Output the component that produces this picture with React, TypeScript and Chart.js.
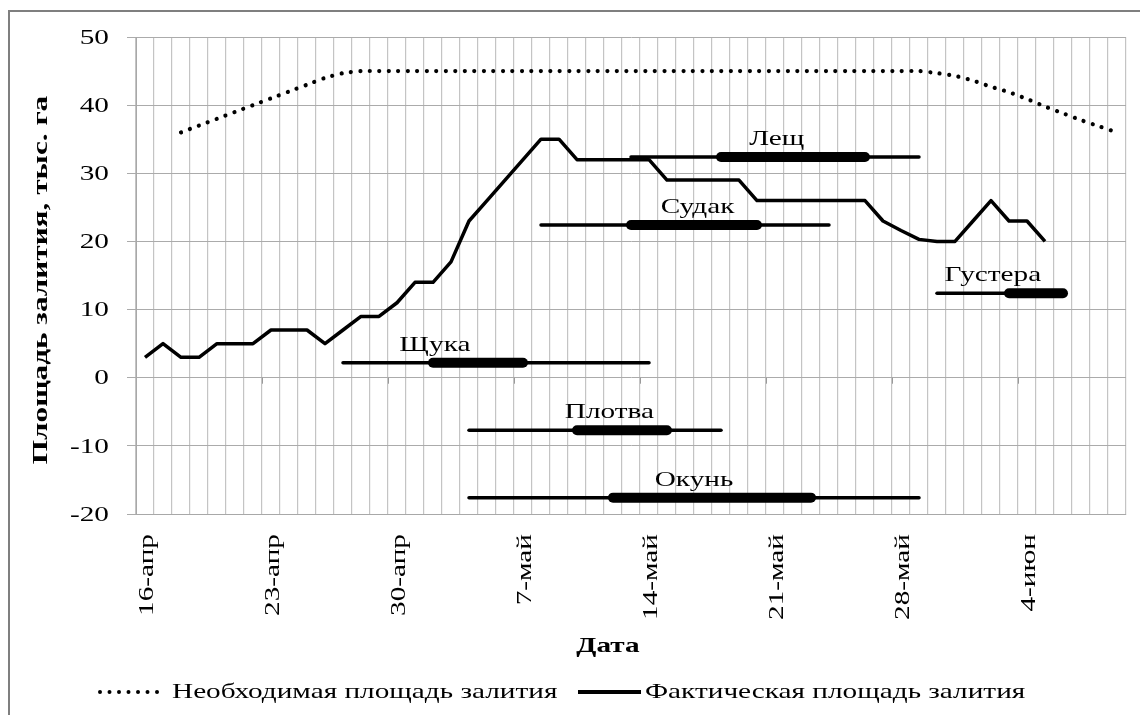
import React, { useEffect, useRef } from 'react';
import { Chart, registerables } from 'chart.js';

Chart.register(...registerables);

// ---------- data ----------
const categories = [
  '16-апр', '17-апр', '18-апр', '19-апр', '20-апр', '21-апр', '22-апр', '23-апр', '24-апр', '25-апр',
  '26-апр', '27-апр', '28-апр', '29-апр', '30-апр',
  '1-май', '2-май', '3-май', '4-май', '5-май', '6-май', '7-май', '8-май', '9-май', '10-май',
  '11-май', '12-май', '13-май', '14-май', '15-май', '16-май', '17-май', '18-май', '19-май', '20-май',
  '21-май', '22-май', '23-май', '24-май', '25-май', '26-май', '27-май', '28-май', '29-май', '30-май', '31-май',
  '1-июн', '2-июн', '3-июн', '4-июн', '5-июн', '6-июн', '7-июн', '8-июн', '9-июн',
];

// Фактическая площадь залития (16-апр .. 5-июн)
const actualArea = [
  3, 5, 3, 3, 5, 5, 5, 7, 7, 7,
  5, 7, 9, 9, 11, 14, 14, 17, 23, 26,
  29, 32, 35, 35, 32, 32, 32, 32, 32, 29,
  29, 29, 29, 29, 26, 26, 26, 26, 26, 26,
  26, 23, 21.6, 20.3, 20, 20, 23, 26, 23, 23, 20,
  null, null, null, null,
];

// Необходимая площадь залития (18-апр .. 9-июн)
const requiredArea = [
  null, null, 36, 37, 38, 39, 40, 41, 42, 43,
  44, 44.7, 45, 45, 45, 45, 45, 45, 45, 45,
  45, 45, 45, 45, 45, 45, 45, 45, 45, 45,
  45, 45, 45, 45, 45, 45, 45, 45, 45, 45,
  45, 45, 45, 45, 44.7, 44.3, 43.6, 42.7, 41.9, 40.9,
  39.8, 38.8, 37.8, 36.9, 36,
];

const fishNames = ['Лещ', 'Судак', 'Густера', 'Щука', 'Плотва', 'Окунь'];
const fishLevel = [32.4, 22.4, 12.4, 2.2, -7.7, -17.6];
const spawnStart = ['13-май', '8-май', '30-май', '27-апр', '4-май', '4-май'];
const spawnEnd = ['29-май', '24-май', '6-июн', '14-май', '18-май', '29-май'];
const peakStart = ['18-май', '13-май', '3-июн', '2-май', '10-май', '12-май'];
const peakEnd = ['26-май', '20-май', '6-июн', '7-май', '15-май', '23-май'];

const yTitle = 'Площадь залития, тыс. га';
const xTitle = 'Дата';
const requiredLabel = 'Необходимая площадь залития';
const actualLabel = 'Фактическая площадь залития';

// ---------- styles / layout ----------
const FONT = '"Liberation Serif", "Times New Roman", serif';
const STRETCH = 1.33;
const LABEL_EVERY = 7;
const fishLabelAt = [35.1, 30.7, 47.1, 16.1, 25.8, 30.5]; // category position of each fish label

function drawText(
  ctx: CanvasRenderingContext2D,
  text: string,
  x: number,
  y: number,
  o: { size: number; bold?: boolean; align: CanvasTextAlign; baseline: CanvasTextBaseline; rotate?: boolean; stretch?: number }
) {
  ctx.save();
  ctx.translate(x, y);
  if (o.rotate) ctx.rotate(-Math.PI / 2);
  ctx.scale(o.stretch ?? STRETCH, 1);
  ctx.font = `${o.bold ? 'bold ' : ''}${o.size}px ${FONT}`;
  ctx.textAlign = o.align;
  ctx.textBaseline = o.baseline;
  ctx.fillStyle = '#000';
  ctx.fillText(text, 0, 0);
  ctx.restore();
}

const decorPlugin = {
  id: 'decor',
  afterDraw(chart: any) {
    const ctx: CanvasRenderingContext2D = chart.ctx;
    const xs = chart.scales.x;
    const ys = chart.scales.y;

    // outer chart border
    ctx.save();
    ctx.strokeStyle = '#7f7f7f';
    ctx.lineWidth = 2;
    ctx.beginPath();
    ctx.moveTo(9, 715);
    ctx.lineTo(9, 11);
    ctx.lineTo(1140, 11);
    ctx.stroke();

    // category tick marks on the zero line
    const y0 = ys.getPixelForValue(0);
    ctx.strokeStyle = '#9a9a9a';
    ctx.lineWidth = 1;
    ctx.beginPath();
    for (let k = LABEL_EVERY; k < categories.length; k += LABEL_EVERY) {
      const bx = Math.round((xs.getPixelForValue(k - 1) + xs.getPixelForValue(k)) / 2) + 0.5;
      ctx.moveTo(bx, y0);
      ctx.lineTo(bx, y0 + 6);
    }
    ctx.stroke();
    ctx.restore();

    // y tick labels
    ys.ticks.forEach((t: any) => {
      drawText(ctx, String(t.value), 109, ys.getPixelForValue(t.value) + 1, { size: 22, align: 'right', baseline: 'middle' });
    });

    // x tick labels
    categories.forEach((c, i) => {
      if (i % LABEL_EVERY !== 0) return;
      drawText(ctx, c, xs.getPixelForValue(i) + 2, 534, { size: 22, align: 'right', baseline: 'middle', rotate: true });
    });

    // fish labels
    fishNames.forEach((name, k) => {
      drawText(ctx, name, xs.getPixelForValue(fishLabelAt[k]), ys.getPixelForValue(fishLevel[k]) - 12, {
        size: 22,
        align: 'center',
        baseline: 'alphabetic',
      });
    });

    // axis titles
    drawText(ctx, yTitle, 41, 280, { size: 22, bold: true, align: 'center', baseline: 'middle', rotate: true, stretch: 1.42 });
    drawText(ctx, xTitle, 608, 646, { size: 22, bold: true, align: 'center', baseline: 'middle' });

    // legend
    const ly = 692;
    ctx.save();
    ctx.strokeStyle = '#000';
    ctx.lineCap = 'round';
    ctx.lineWidth = 4;
    ctx.setLineDash([0.001, 9.5]);
    ctx.beginPath();
    ctx.moveTo(100, ly);
    ctx.lineTo(165, ly);
    ctx.stroke();
    ctx.setLineDash([]);
    ctx.lineCap = 'butt';
    ctx.lineWidth = 4;
    ctx.beginPath();
    ctx.moveTo(578, ly);
    ctx.lineTo(641, ly);
    ctx.stroke();
    ctx.restore();
    drawText(ctx, requiredLabel, 172, ly, { size: 22, align: 'left', baseline: 'middle' });
    drawText(ctx, actualLabel, 645, ly, { size: 22, align: 'left', baseline: 'middle' });
  },
};

export default function App() {
  const ref = useRef<HTMLCanvasElement>(null);

  useEffect(() => {
    const canvas = ref.current;
    if (!canvas) return;

    const fishSets: any[] = [];
    fishNames.forEach((name, k) => {
      fishSets.push({
        label: name,
        data: [
          { x: spawnStart[k], y: fishLevel[k] },
          { x: spawnEnd[k], y: fishLevel[k] },
        ],
        borderColor: '#000',
        borderWidth: 3.5,
        borderCapStyle: 'round',
        pointRadius: 0,
        fill: false,
      });
      fishSets.push({
        label: name + ' (пик)',
        data: [
          { x: peakStart[k], y: fishLevel[k] },
          { x: peakEnd[k], y: fishLevel[k] },
        ],
        borderColor: '#000',
        borderWidth: 10,
        borderCapStyle: 'round',
        pointRadius: 0,
        fill: false,
      });
    });

    const chart = new Chart(canvas, {
      type: 'line',
      data: {
        labels: categories,
        datasets: [
          {
            label: requiredLabel,
            data: requiredArea,
            borderColor: '#000',
            borderWidth: 4.2,
            borderDash: [0.001, 9.5],
            borderCapStyle: 'round',
            pointRadius: 0,
            tension: 0.2,
            fill: false,
          },
          {
            label: actualLabel,
            data: actualArea,
            borderColor: '#000',
            borderWidth: 3.5,
            borderJoinStyle: 'round',
            pointRadius: 0,
            tension: 0,
            fill: false,
          },
          ...fishSets,
        ] as any,
      },
      options: {
        responsive: false,
        animation: false,
        layout: { padding: { left: 0, top: 37, right: 14, bottom: 0 } },
        plugins: { legend: { display: false }, tooltip: { enabled: false } },
        scales: {
          x: {
            type: 'category',
            offset: true,
            grid: { offset: true, color: '#c4c4c4', lineWidth: 1.2, drawTicks: false },
            border: { color: '#a8a8a8' },
            ticks: { display: false, autoSkip: false },
            afterFit: (s: any) => {
              s.height = 201;
            },
          },
          y: {
            min: -20,
            max: 50,
            grid: { color: '#ababab', tickLength: 9 },
            border: { color: '#a8a8a8' },
            ticks: { stepSize: 10, display: false },
            afterFit: (s: any) => {
              s.width = 136;
            },
          },
        },
      } as any,
      plugins: [decorPlugin],
    });

    return () => chart.destroy();
  }, []);

  return (
    <div style={{ position: 'absolute', left: 0, top: 0, width: 1140, height: 715, background: '#fff' }}>
      <canvas ref={ref} width={1140} height={715} />
    </div>
  );
}
